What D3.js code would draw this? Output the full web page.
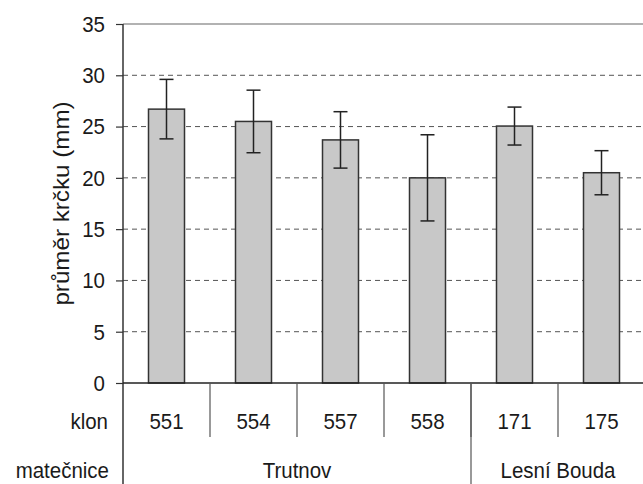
<!DOCTYPE html>
<html><head><meta charset="utf-8">
<script src="https://cdn.jsdelivr.net/npm/d3@7"></script>
<style>body{margin:0;background:#fff}svg{display:block}text{font-family:"Liberation Sans",Arial,sans-serif;fill:#1a1a1a}</style>
</head><body>
<svg id="c" width="643" height="484"></svg>
<script>
const clones = ["551","554","557","558","171","175"];
const means = [26.7, 25.5, 23.7, 20.0, 25.05, 20.5];
const errors = [2.9, 3.05, 2.75, 4.2, 1.85, 2.15];
const groups = [{name:"Trutnov", from:0, to:3}, {name:"Lesní Bouda", from:4, to:5}];
const yTicks = [0,5,10,15,20,25,30,35];
const yLabel = "průměr krčku (mm)";
const rowLabels = ["klon","matečnice"];

const svg = d3.select("#c");
const L = 123, R = 645, T = 24, B = 383;
const x = d3.scaleBand().domain(clones).range([L, R]);
const y = d3.scaleLinear().domain([0,35]).range([B, T]);
const barW = 36;
const FS = "20.5px", SY = 1.1;

function label(px, py, txt, anchor, extra) {
  svg.append("text")
    .attr("transform", `translate(${px},${py}) scale(1,${SY})` + (extra || ""))
    .attr("dy", "0.35em").attr("text-anchor", anchor)
    .style("font-size", FS).text(txt);
}

// gridlines
svg.append("g").selectAll("line").data(yTicks.filter(t => t > 0 && t < 35)).join("line")
  .attr("x1", L).attr("x2", 643).attr("y1", d => y(d)).attr("y2", d => y(d))
  .attr("stroke", "#555").attr("stroke-width", 1).attr("stroke-dasharray", "5,4");
svg.append("line").attr("x1", L).attr("x2", 643).attr("y1", y(35)).attr("y2", y(35))
  .attr("stroke", "#999").attr("stroke-width", 1.5);

// bars
svg.append("g").selectAll("rect").data(clones).join("rect")
  .attr("x", (d) => x(d) + x.bandwidth()/2 - barW/2)
  .attr("y", (d,i) => y(means[i]))
  .attr("width", barW)
  .attr("height", (d,i) => B - y(means[i]))
  .attr("fill", "#c8c8c8").attr("stroke", "#333").attr("stroke-width", 1.5);

// error bars
const eg = svg.append("g").attr("stroke", "#222").attr("stroke-width", 1.5);
clones.forEach((c,i) => {
  const cx = x(c) + x.bandwidth()/2;
  const hi = y(means[i] + errors[i]), lo = y(means[i] - errors[i]);
  eg.append("line").attr("x1", cx).attr("x2", cx).attr("y1", hi).attr("y2", lo);
  eg.append("line").attr("x1", cx-7).attr("x2", cx+7).attr("y1", hi).attr("y2", hi);
  eg.append("line").attr("x1", cx-7).attr("x2", cx+7).attr("y1", lo).attr("y2", lo);
});

// y axis ticks
const ya = svg.append("g").attr("transform", `translate(${L},0)`)
  .call(d3.axisLeft(y).tickValues(yTicks).tickSize(7).tickFormat(""));
ya.select(".domain").remove();
ya.selectAll(".tick line").attr("stroke", "#333").attr("stroke-width", 1.2);
yTicks.forEach(t => label(105, y(t), d3.format("d")(t), "end"));
svg.append("line").attr("x1", L).attr("x2", L).attr("y1", T).attr("y2", 484)
  .attr("stroke", "#333").attr("stroke-width", 1.5);

// x axis line
svg.append("line").attr("x1", L).attr("x2", 643).attr("y1", B).attr("y2", B)
  .attr("stroke", "#222").attr("stroke-width", 1.5);

// category separators
const sepMinor = clones.slice(1).map(c => x(c));
svg.append("g").selectAll("line").data(sepMinor).join("line")
  .attr("x1", d => d).attr("x2", d => d).attr("y1", B).attr("y2", 437)
  .attr("stroke", "#555").attr("stroke-width", 1.2);
// group separators
const grpSep = groups.slice(1).map(g => x(clones[g.from]));
svg.append("g").selectAll("line").data(grpSep).join("line")
  .attr("x1", d => d).attr("x2", d => d).attr("y1", B).attr("y2", 484)
  .attr("stroke", "#555").attr("stroke-width", 1.2);

// clone labels
clones.forEach(c => label(x(c) + x.bandwidth()/2, 421, c, "middle"));
// group labels
groups.forEach(g => label((x(clones[g.from]) + x(clones[g.to]) + x.bandwidth())/2, 470, g.name, "middle"));
// row labels
label(108, 421, rowLabels[0], "end");
label(109, 470, rowLabels[1], "end");

// y label
svg.append("text").attr("transform", `translate(69,${(T+B)/2}) scale(1,${SY}) rotate(-90)`)
  .attr("text-anchor", "middle").style("font-size", "22px").text(yLabel);
</script>
</body></html>
